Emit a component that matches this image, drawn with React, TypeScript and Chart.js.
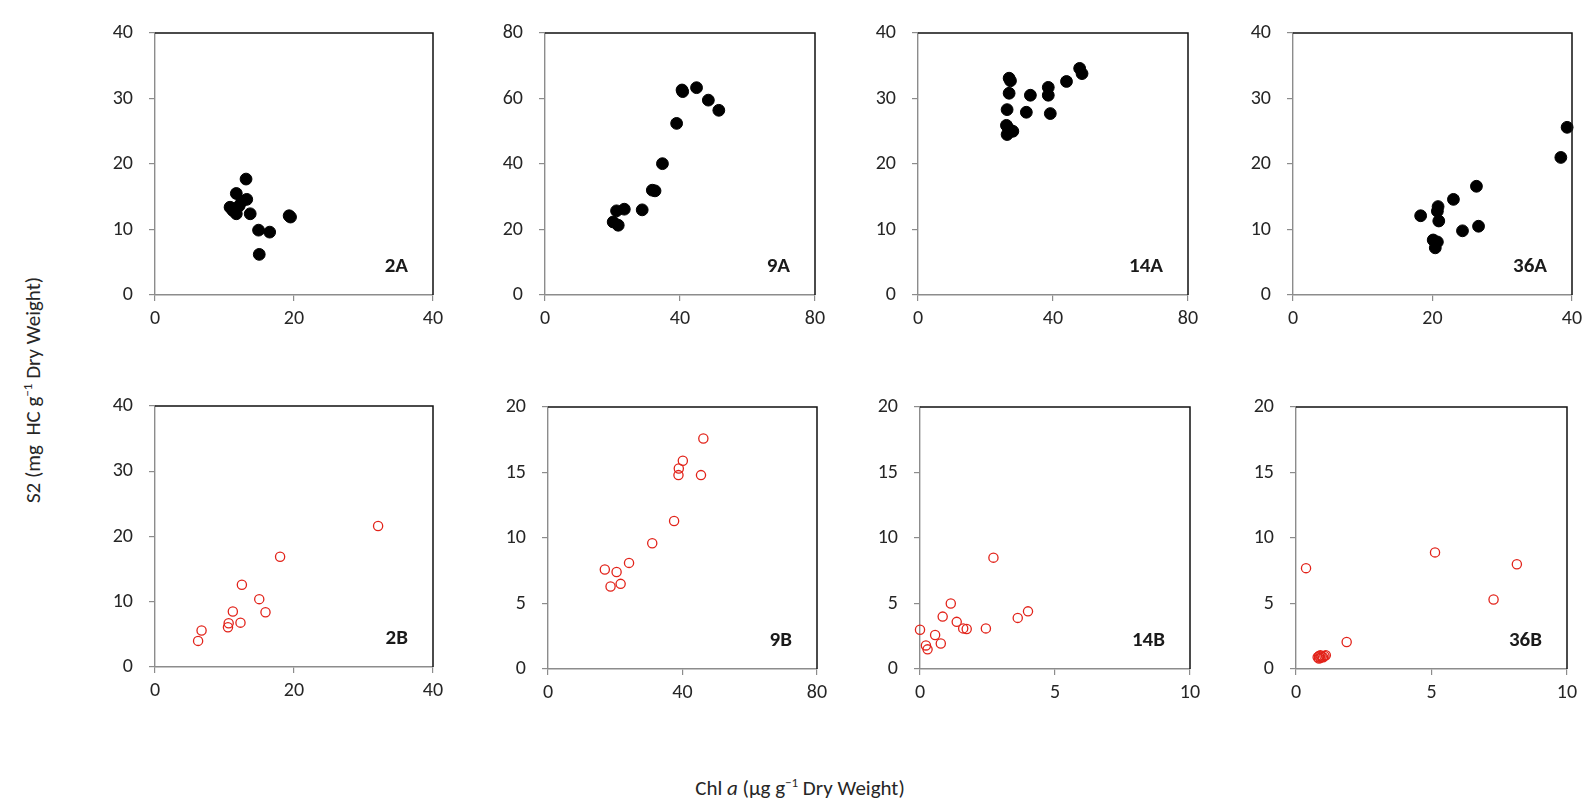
import React, { useEffect, useRef } from "react";
import { Chart, registerables } from "chart.js";

Chart.register(...registerables);

// ---------- Data ----------
const panelNames = ["2A", "9A", "14A", "36A", "2B", "9B", "14B", "36B"];
const xMaxes = [40, 80, 80, 40, 40, 80, 10, 10];
const yMaxes = [40, 80, 40, 40, 40, 20, 20, 20];
const xSteps = [20, 40, 40, 20, 20, 40, 5, 5];
const ySteps = [10, 20, 10, 10, 10, 5, 5, 5];

const x2A = [13.1, 11.7, 13.2, 10.8, 12.1, 11.7, 13.7, 12.5, 19.3, 19.5, 14.9, 16.5, 15.0, 11.2];
const y2A = [17.7, 15.5, 14.6, 13.4, 13.6, 12.4, 12.4, 14.3, 12.1, 11.9, 9.9, 9.6, 6.2, 12.9];

const x9A = [20.2, 21.7, 21.2, 23.5, 28.8, 31.8, 32.6, 34.8, 39.0, 40.6, 40.8, 44.9, 48.4, 51.5];
const y9A = [22.3, 21.3, 25.7, 26.2, 26.0, 32.0, 31.8, 40.1, 52.4, 62.6, 62.1, 63.3, 59.5, 56.4];

const x14A = [27.0, 27.4, 27.0, 26.4, 26.2, 26.4, 28.1, 32.1, 33.3, 38.6, 38.6, 39.2, 44.0, 47.9, 48.6, 26.7];
const y14A = [33.1, 32.7, 30.8, 28.3, 25.9, 24.5, 25.0, 27.9, 30.5, 31.7, 30.5, 27.7, 32.6, 34.6, 33.8, 25.5];

const x36A = [18.3, 20.8, 20.7, 20.9, 20.1, 20.7, 20.4, 23.0, 24.3, 26.3, 26.6, 38.4, 39.3];
const y36A = [12.1, 13.5, 12.8, 11.3, 8.4, 8.1, 7.2, 14.6, 9.8, 16.6, 10.5, 21.0, 25.6];

const x2B = [6.2, 6.7, 10.5, 10.6, 12.3, 11.2, 12.5, 15.0, 15.9, 18.0, 32.1];
const y2B = [4.0, 5.6, 6.1, 6.7, 6.8, 8.5, 12.6, 10.4, 8.4, 16.9, 21.6];

const x9B = [16.9, 20.4, 18.6, 21.6, 24.1, 31.0, 37.5, 38.8, 38.9, 40.1, 45.5, 46.2];
const y9B = [7.6, 7.4, 6.3, 6.5, 8.1, 9.6, 11.3, 14.8, 15.3, 15.9, 14.8, 17.6];

const x14B = [0.0, 0.22, 0.28, 0.56, 0.77, 0.84, 1.14, 1.36, 1.6, 1.73, 2.44, 2.72, 3.62, 4.0];
const y14B = [3.0, 1.8, 1.5, 2.6, 1.95, 4.0, 5.0, 3.6, 3.1, 3.05, 3.1, 8.5, 3.9, 4.4];

const x36B = [0.37, 5.13, 8.15, 7.29, 1.87, 0.8, 0.85, 0.9, 0.95, 1.0, 1.05, 1.1, 0.9, 0.85];
const y36B = [7.7, 8.9, 8.0, 5.3, 2.06, 0.9, 1.0, 0.85, 0.95, 0.9, 1.0, 1.05, 1.05, 0.8];

const xSeries = [x2A, x9A, x14A, x36A, x2B, x9B, x14B, x36B];
const ySeries = [y2A, y9A, y14A, y36A, y2B, y9B, y14B, y36B];

// ---------- Layout (plot rectangles: left, top, right, bottom) ----------
const plotRects: number[][] = [
  [155, 20, 433, 295],
  [545, 20, 815, 295],
  [918, 20, 1188, 295],
  [1293, 20, 1572, 295],
  [155, 393, 433, 667],
  [548, 394, 817, 669],
  [920, 394, 1190, 669],
  [1296, 394, 1567, 669],
];

const FONT = "Carlito, Lato, 'Open Sans', sans-serif";
const TEXT = "#262626";
const AXIS = "#8c8c8c";
const PAD_LEFT = 75;
const PAD_TOP = 15;
const PAD_RIGHT = 25;
const PAD_BOTTOM = 50;

const boxPlugin = {
  id: "boxAndLabel",
  afterDraw(chart: any) {
    const { ctx, chartArea } = chart;
    const opts = chart.options.plugins.boxAndLabel || {};
    ctx.save();
    ctx.strokeStyle = "#111";
    ctx.lineWidth = 1.5;
    ctx.beginPath();
    ctx.moveTo(chartArea.left, chartArea.top);
    ctx.lineTo(chartArea.right, chartArea.top);
    ctx.lineTo(chartArea.right, chartArea.bottom);
    ctx.stroke();
    if (opts.text) {
      ctx.fillStyle = "#1a1a1a";
      ctx.font = `bold 21px ${FONT}`;
      ctx.textAlign = "right";
      ctx.textBaseline = "middle";
      ctx.fillText(opts.text, chartArea.right - 25, chartArea.bottom - 28);
    }
    ctx.restore();
  },
};

function Panel({ idx }: { idx: number }) {
  const ref = useRef<HTMLCanvasElement | null>(null);
  const [l, t, r, b] = plotRects[idx];
  const w = r - l + PAD_LEFT + PAD_RIGHT;
  const h = b - t + PAD_TOP + PAD_BOTTOM;
  const isTop = idx < 4;

  useEffect(() => {
    if (!ref.current) return;
    const data = xSeries[idx].map((x, i) => ({ x, y: ySeries[idx][i] }));
    const chart = new Chart(ref.current, {
      type: "scatter",
      data: {
        datasets: [
          {
            data,
            pointRadius: isTop ? 5.9 : 4.6,
            pointHoverRadius: isTop ? 5.9 : 4.6,
            pointBackgroundColor: isTop ? "#000" : "rgba(0,0,0,0)",
            pointBorderColor: isTop ? "#000" : "#e2231a",
            pointBorderWidth: isTop ? 1 : 1.3,
            clip: false as any,
          },
        ],
      },
      plugins: [boxPlugin],
      options: {
        animation: false,
        responsive: false,
        layout: { padding: { left: 0, top: PAD_TOP, right: PAD_RIGHT, bottom: 0 } },
        plugins: {
          legend: { display: false },
          tooltip: { enabled: false },
          boxAndLabel: { text: panelNames[idx] },
        } as any,
        scales: {
          x: {
            type: "linear",
            min: 0,
            max: xMaxes[idx],
            afterFit: (s: any) => {
              s.height = PAD_BOTTOM;
            },
            ticks: {
              stepSize: xSteps[idx],
              color: TEXT,
              font: { family: FONT, size: 20 },
              padding: 6,
              maxRotation: 0,
            },
            grid: {
              drawOnChartArea: false,
              drawTicks: true,
              tickLength: 6,
              color: AXIS,
              lineWidth: 1.2,
            },
            border: { display: true, color: AXIS, width: 1.4 },
          },
          y: {
            type: "linear",
            min: 0,
            max: yMaxes[idx],
            afterFit: (s: any) => {
              s.width = PAD_LEFT;
            },
            ticks: {
              stepSize: ySteps[idx],
              color: TEXT,
              font: { family: FONT, size: 20 },
              padding: 16,
            },
            grid: {
              drawOnChartArea: false,
              drawTicks: true,
              tickLength: 6,
              color: AXIS,
              lineWidth: 1.2,
            },
            border: { display: true, color: AXIS, width: 1.4 },
          },
        },
      },
    });
    return () => chart.destroy();
  }, [idx]);

  return (
    <canvas
      ref={ref}
      width={w}
      height={h}
      style={{
        position: "absolute",
        left: l - PAD_LEFT,
        top: t - PAD_TOP,
        width: w,
        height: h,
      }}
    />
  );
}

export default function App() {
  return (
    <div
      style={{
        position: "absolute",
        left: 0,
        top: 0,
        width: 1587,
        height: 812,
        background: "#fff",
        overflow: "hidden",
        fontFamily: FONT,
        color: TEXT,
      }}
    >
      {panelNames.map((_, i) => (
        <Panel key={i} idx={i} />
      ))}
      <div
        style={{
          position: "absolute",
          left: 33,
          top: 390,
          transform: "translate(-50%, -50%) rotate(-90deg)",
          whiteSpace: "nowrap",
          fontSize: 21,
        }}
      >
        S2 (mg&nbsp; HC g<sup style={{ fontSize: 13 }}>−1</sup> Dry Weight)
      </div>
      <div
        style={{
          position: "absolute",
          left: 800,
          top: 788,
          transform: "translate(-50%, -50%)",
          whiteSpace: "nowrap",
          fontSize: 21,
        }}
      >
        Chl <i>a</i> (µg g<sup style={{ fontSize: 13 }}>−1</sup> Dry Weight)
      </div>
    </div>
  );
}
